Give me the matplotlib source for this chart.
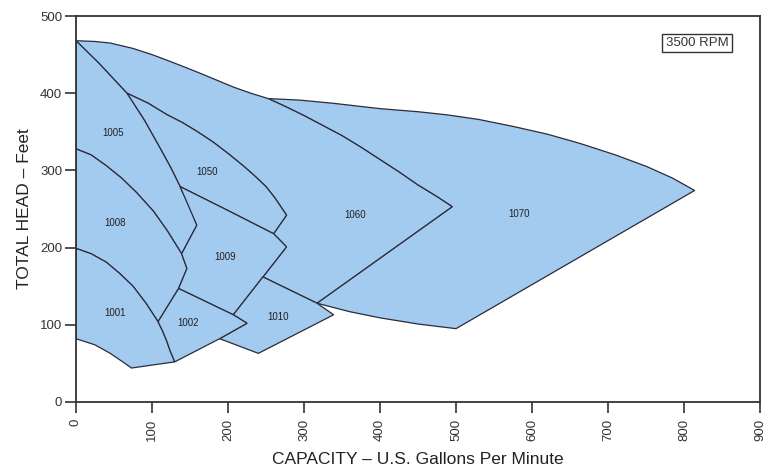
import matplotlib.pyplot as plt
from matplotlib.patches import Polygon

plt.rcParams['font.family'] = ['Liberation Sans', 'DejaVu Sans']

# boundary curves as (gpm, feet), 3500 RPM
top_1060 = [(0, 468), (25, 467), (45, 465), (75, 458), (100, 450), (119, 443), (140, 435),
            (163, 426), (185, 417), (207, 408), (230, 400), (253, 393), (275, 383),
            (300, 371), (325, 358), (350, 345), (375, 330), (400, 314), (425, 298),
            (450, 281), (475, 266), (495, 253)]
top_1070 = [(253, 393), (275, 392), (295, 391), (338, 387), (400, 380), (450, 376),
            (488, 372), (530, 366), (575, 357), (620, 347), (663, 335), (710, 320),
            (751, 305), (785, 290), (814, 274)]
bottom_1070 = [(500, 95), (450, 101), (400, 109), (360, 117), (317, 128)]
edge_1005 = [(0, 468), (30, 439), (67, 400), (90, 365), (110, 330), (125, 303),
             (137, 279), (150, 252), (159, 229)]
top_1050 = [(67, 400), (95, 387), (120, 372), (140, 362), (160, 350), (180, 337),
            (200, 322), (220, 306), (235, 293), (250, 279), (262, 264), (277, 242)]
top_1009 = [(137, 279), (200, 248), (260, 218), (277, 201)]
top_1008 = [(0, 328), (20, 320), (40, 306), (60, 290), (80, 271), (102, 247),
            (120, 222), (139, 192)]
right_1008 = [(146, 173), (135, 147), (108, 104)]
top_1001 = [(0, 199), (20, 192), (40, 181), (58, 166), (75, 150), (92, 128), (108, 104)]
side_1001 = [(108, 104), (114, 92), (119, 80), (124, 66), (130, 52)]
bottom_1001 = [(73, 44), (60, 53), (45, 63), (25, 74), (0, 82)]
edge_1002 = [(108, 104), (135, 147), (207, 113), (225, 102), (189, 82)]
edge_1010 = [(246, 162), (317, 128), (339, 113), (240, 63), (189, 82), (225, 102),
             (207, 113)]

area_1070 = top_1070 + bottom_1070 + top_1060[:10:-1]
area_1060 = (top_1060 + [(317, 128), (246, 162), (277, 201), (260, 218)]
             + top_1050[::-1] + edge_1005[1::-1])
area_1050 = top_1050 + top_1009[2::-1] + edge_1005[5:2:-1]
area_1005 = edge_1005 + top_1008[::-1]
area_1008 = top_1008 + right_1008 + top_1001[::-1]
area_1009 = top_1009 + [(246, 162), (207, 113), (135, 147), (146, 173), (139, 192),
                        (159, 229)]
area_1010 = edge_1010
area_1001 = top_1001 + side_1001 + bottom_1001
area_1002 = edge_1002 + side_1001[::-1]

models = ['1070', '1060', '1050', '1005', '1008', '1009', '1010', '1001', '1002']
areas = [area_1070, area_1060, area_1050, area_1005, area_1008, area_1009,
         area_1010, area_1001, area_1002]
label_q = [583, 367, 172, 49, 51, 196, 266, 51, 148]
label_h = [244, 242, 298, 349, 232, 188, 110, 115, 102]

fill = '#a3caef'
line = '#2b2b3a'

fig = plt.figure(figsize=(7.7, 4.75), dpi=100)
ax = fig.add_axes([0.0987, 0.1537, 0.8883, 0.8126])

for name, pts, q, h in zip(models, areas, label_q, label_h):
    ax.add_patch(Polygon(pts, closed=True, facecolor=fill, edgecolor=line, lw=0.9))
    ax.text(q, h, name, ha='center', va='center', fontsize=7, color='#222')

ax.text(817, 465, '3500 RPM', ha='center', va='center', fontsize=9.5, color='#333',
        bbox=dict(boxstyle='square,pad=0.25', facecolor='white', edgecolor='#333', lw=1))

ax.set_xlim(0, 900)
ax.set_ylim(0, 500)
ax.set_xticks(range(0, 901, 100))
ax.set_yticks(range(0, 501, 100))
ax.tick_params(axis='both', direction='out', length=8, width=1.2, colors='#333',
               labelsize=9.5, pad=2)
ax.tick_params(axis='x', labelrotation=90, pad=4)

for s in ax.spines.values():
    s.set_color('#333')
    s.set_linewidth(1.3)

ax.set_xlabel('CAPACITY – U.S. Gallons Per Minute', fontsize=12.5, color='#222', labelpad=8)
ax.set_ylabel('TOTAL HEAD – Feet', fontsize=12.5, color='#222', labelpad=6)

fig.savefig('out.png', dpi=100)
